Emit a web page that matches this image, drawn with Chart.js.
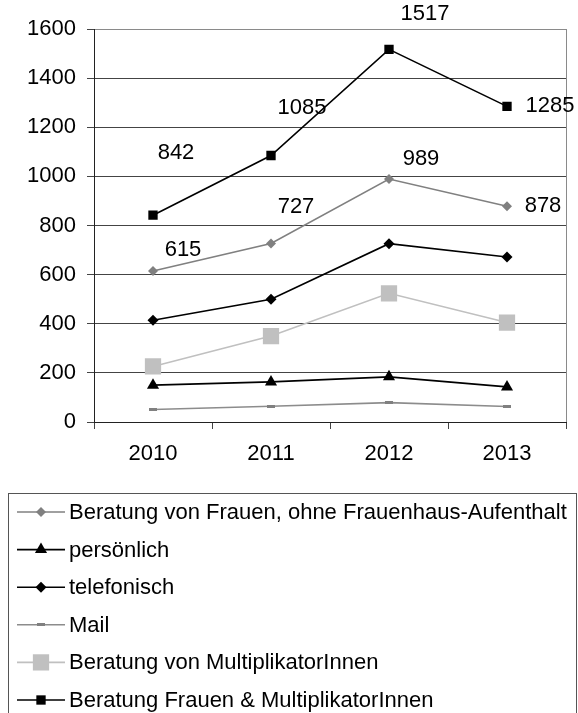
<!DOCTYPE html>
<html>
<head>
<meta charset="utf-8">
<script src="https://cdn.jsdelivr.net/npm/chart.js@4.4.1/dist/chart.umd.min.js"></script>
<style>
  html, body { margin: 0; padding: 0; background: #ffffff; }
  canvas { display: block; }
</style>
</head>
<body>
<canvas id="chart" width="578" height="713"></canvas>
<script>
// Beratungszahlen 2010–2013
const years = ['2010', '2011', '2012', '2013'];
const frauenOhneAufenthalt = [615, 727, 989, 878];
const persoenlich = [150, 163, 184, 143];
const telefonisch = [414, 500, 726, 672];
const mail = [51, 64, 79, 63];
const multiplikatorInnen = [226, 350, 524, 405];
const frauenUndMultiplikatorInnen = [842, 1085, 1517, 1285];
const yTickValues = [0, 200, 400, 600, 800, 1000, 1200, 1400, 1600];

const seriesNames = [
  'Beratung von Frauen, ohne Frauenhaus-Aufenthalt',
  'persönlich',
  'telefonisch',
  'Mail',
  'Beratung von MultiplikatorInnen',
  'Beratung Frauen & MultiplikatorInnen'
];

const FONT = '"Liberation Sans", Arial, sans-serif';
const FONT_SIZE = 22;
Chart.defaults.font.family = FONT;
Chart.defaults.font.size = FONT_SIZE;
Chart.defaults.color = '#000000';

// small flat dash used as the "Mail" marker
const dashMarker = document.createElement('canvas');
dashMarker.width = 8; dashMarker.height = 3;
(function () {
  const g = dashMarker.getContext('2d');
  g.fillStyle = '#808080';
  g.fillRect(0, 0, 8, 3);
})();

const datasets = [
  { label: seriesNames[0], data: frauenOhneAufenthalt, borderColor: '#808080', backgroundColor: '#808080',
    borderWidth: 1.6, pointStyle: 'rectRot', pointRadius: 5, pointBorderWidth: 0, order: 6 },
  { label: seriesNames[1], data: persoenlich, borderColor: '#000000', backgroundColor: '#000000',
    borderWidth: 1.8, pointStyle: 'triangle', pointRadius: 7, pointBorderWidth: 0, order: 5 },
  { label: seriesNames[2], data: telefonisch, borderColor: '#000000', backgroundColor: '#000000',
    borderWidth: 1.6, pointStyle: 'rectRot', pointRadius: 5.5, pointBorderWidth: 0, order: 4 },
  { label: seriesNames[3], data: mail, borderColor: '#8c8c8c', backgroundColor: '#808080',
    borderWidth: 1.6, pointStyle: dashMarker, pointRadius: 4, pointBorderWidth: 0, order: 3 },
  { label: seriesNames[4], data: multiplikatorInnen, borderColor: '#c0c0c0', backgroundColor: '#c0c0c0',
    borderWidth: 1.6, pointStyle: 'rect', pointRadius: 11.5, pointBorderWidth: 0, order: 2 },
  { label: seriesNames[5], data: frauenUndMultiplikatorInnen, borderColor: '#000000', backgroundColor: '#000000',
    borderWidth: 1.6, pointStyle: 'rect', pointRadius: 6.6, pointBorderWidth: 0, order: 1 }
];

// value labels beside the points of two series (offsets in px from the point)
const valueLabelPlugin = {
  id: 'valueLabels',
  afterDatasetsDraw(chart, args, opts) {
    const ctx = chart.ctx;
    ctx.save();
    ctx.font = FONT_SIZE + 'px ' + FONT;
    ctx.fillStyle = '#000000';
    ctx.textAlign = 'center';
    ctx.textBaseline = 'middle';
    opts.items.forEach(item => {
      const meta = chart.getDatasetMeta(item.dataset);
      const values = chart.data.datasets[item.dataset].data;
      meta.data.forEach((pt, i) => {
        const off = item.offsets[i];
        ctx.fillText(String(values[i]), pt.x + off[0], pt.y + off[1]);
      });
    });
    ctx.restore();
  }
};

// right-hand frame of the plot area
const framePlugin = {
  id: 'frame',
  beforeDatasetsDraw(chart) {
    const { ctx, chartArea: a } = chart;
    ctx.save();
    ctx.strokeStyle = '#8a8a8a';
    ctx.lineWidth = 1;
    ctx.beginPath();
    ctx.moveTo(Math.round(a.right) + 0.5, a.top);
    ctx.lineTo(Math.round(a.right) + 0.5, a.bottom);
    ctx.stroke();
    ctx.restore();
  }
};

// boxed legend below the chart: line with marker, then the series name
const boxLegendPlugin = {
  id: 'boxLegend',
  afterDraw(chart, args, opts) {
    const ctx = chart.ctx;
    ctx.save();
    ctx.strokeStyle = '#555555';
    ctx.lineWidth = 1;
    ctx.strokeRect(opts.left + 0.5, opts.top + 0.5, opts.width, opts.height);
    chart.data.datasets.forEach((ds, i) => {
      const y = opts.firstRow + i * opts.rowGap;
      ctx.strokeStyle = ds.borderColor;
      ctx.lineWidth = ds.borderWidth;
      ctx.beginPath();
      ctx.moveTo(opts.lineStart, y);
      ctx.lineTo(opts.lineEnd, y);
      ctx.stroke();
      const mx = (opts.lineStart + opts.lineEnd) / 2;
      ctx.fillStyle = ds.backgroundColor;
      Chart.helpers.drawPoint(ctx, {
        pointStyle: ds.pointStyle, radius: ds.pointRadius, rotation: 0, borderWidth: 0
      }, mx, y);
      ctx.fillStyle = '#000000';
      ctx.font = FONT_SIZE + 'px ' + FONT;
      ctx.textAlign = 'left';
      ctx.textBaseline = 'middle';
      ctx.fillText(ds.label, opts.textX, y + 1);
    });
    ctx.restore();
  }
};

new Chart(document.getElementById('chart'), {
  type: 'line',
  data: { labels: years, datasets },
  options: {
    responsive: false,
    animation: false,
    layout: { padding: { left: 0, right: 12, top: 29, bottom: 251 } },
    plugins: {
      legend: { display: false },
      tooltip: { enabled: false },
      valueLabels: {
        items: [
          { dataset: 0, offsets: [[30, -21], [25, -36], [32, -20], [36, 0]] },
          { dataset: 5, offsets: [[23, -62], [31, -48], [36, -35], [43, 0]] }
        ]
      },
      boxLegend: {
        left: 8, top: 493, width: 568, height: 260,
        firstRow: 512, rowGap: 37.6,
        lineStart: 17, lineEnd: 65, textX: 69
      }
    },
    elements: { line: { tension: 0 } },
    scales: {
      x: {
        offset: true,
        grid: { display: true, offset: true, drawOnChartArea: false, drawTicks: true,
                tickLength: 7, color: '#444444', tickColor: '#444444' },
        border: { display: true, color: '#222222', width: 1 },
        ticks: { padding: 12, color: '#000000', font: { size: FONT_SIZE }, maxRotation: 0 },
        afterFit(s) { s.height = 40; }
      },
      y: {
        min: 0, max: 1600,
        afterBuildTicks(s) { s.ticks = yTickValues.map(v => ({ value: v })); },
        grid: {
          color: ctx => (ctx.tick && ctx.tick.value === 1600) ? '#8a8a8a' : '#444444',
          tickColor: '#444444', tickLength: 7, drawTicks: true
        },
        border: { display: true, color: '#222222', width: 1 },
        ticks: { padding: 11, color: '#000000', font: { size: FONT_SIZE },
                 callback: v => String(v) },
        afterFit(s) { s.width = 94; }
      }
    }
  },
  plugins: [framePlugin, valueLabelPlugin, boxLegendPlugin]
});
</script>
</body>
</html>
